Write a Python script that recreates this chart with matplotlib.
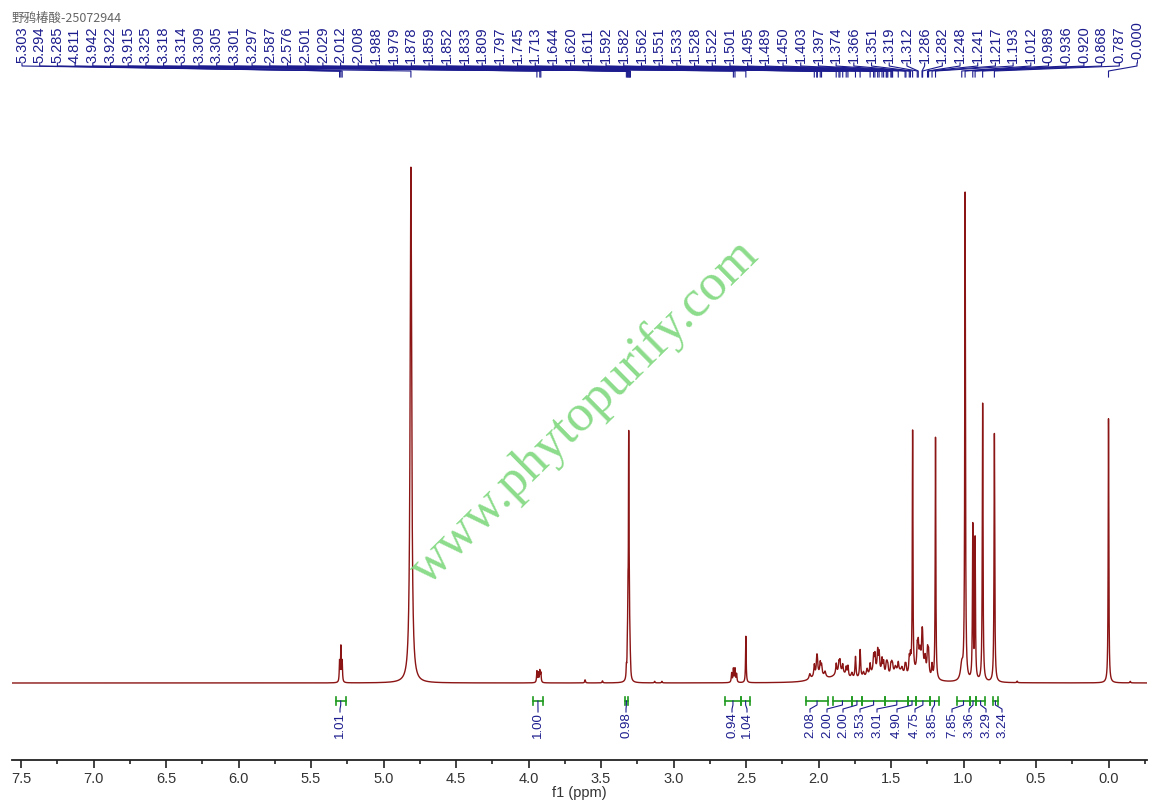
import numpy as np
import matplotlib
matplotlib.use("Agg")
import matplotlib.pyplot as plt

# ---------------- data ----------------
TITLE = "野鸦椿酸-25072944"

PEAK_LABELS = ["5.303", "5.294", "5.285", "4.811", "3.942", "3.922", "3.915", "3.325",
               "3.318", "3.314", "3.309", "3.305", "3.301", "3.297", "2.587", "2.576",
               "2.501", "2.029", "2.012", "2.008", "1.988", "1.979", "1.878", "1.859",
               "1.852", "1.833", "1.809", "1.797", "1.745", "1.713", "1.644", "1.620",
               "1.611", "1.592", "1.582", "1.562", "1.551", "1.533", "1.528", "1.522",
               "1.501", "1.495", "1.489", "1.450", "1.403", "1.397", "1.374", "1.366",
               "1.351", "1.319", "1.312", "1.286", "1.282", "1.248", "1.241", "1.217",
               "1.193", "1.012", "0.989", "0.936", "0.920", "0.868", "0.787", "-0.000"]

# spectrum lines: position (ppm), height (relative to tallest), half width (ppm)
SPEC_PPM = [5.303, 5.294, 5.285, 4.811,
            3.942, 3.932, 3.922, 3.915, 3.61, 3.49,
            3.325, 3.318, 3.314, 3.309, 3.305, 3.301, 3.297, 3.13, 3.08,
            2.599, 2.587, 2.576, 2.565, 2.501,
            2.06, 2.029, 2.012, 2.008, 1.988, 1.979, 1.955,
            1.878, 1.859, 1.852, 1.833, 1.809, 1.797, 1.770, 1.745, 1.713, 1.690, 1.665,
            1.644, 1.620, 1.611, 1.592, 1.582, 1.562, 1.551, 1.533, 1.528, 1.522,
            1.501, 1.495, 1.489, 1.470, 1.450, 1.425, 1.403, 1.397, 1.374, 1.366,
            1.351, 1.319, 1.312, 1.300, 1.286, 1.282, 1.265, 1.248, 1.241, 1.217, 1.193,
            2.00, 1.85, 1.60, 1.45, 1.30,
            1.012, 0.989, 0.936, 0.920, 0.868, 0.787, 0.63, 0.000, -0.15]
SPEC_HEIGHT = [0.040, 0.068, 0.040, 1.000,
               0.022, 0.018, 0.022, 0.018, 0.006, 0.004,
               0.020, 0.050, 0.120, 0.435, 0.120, 0.050, 0.020, 0.003, 0.003,
               0.018, 0.026, 0.026, 0.016, 0.090,
               0.010, 0.022, 0.026, 0.022, 0.022, 0.018, 0.010,
               0.020, 0.018, 0.020, 0.016, 0.016, 0.020, 0.010, 0.042, 0.055, 0.010, 0.014,
               0.020, 0.030, 0.030, 0.038, 0.034, 0.026, 0.022, 0.016, 0.016, 0.016,
               0.016, 0.016, 0.014, 0.010, 0.016, 0.010, 0.016, 0.016, 0.030, 0.030,
               0.470, 0.040, 0.040, 0.030, 0.048, 0.044, 0.030, 0.045, 0.042, 0.025, 0.470,
               0.014, 0.018, 0.020, 0.018, 0.026,
               0.030, 0.945, 0.298, 0.272, 0.540, 0.482, 0.003, 0.512, 0.003]
SPEC_WIDTH = [0.0025, 0.0025, 0.0025, 0.0063,
              0.0028, 0.0028, 0.0028, 0.0028, 0.003, 0.003,
              0.0022, 0.0022, 0.0022, 0.0022, 0.0022, 0.0022, 0.0022, 0.003, 0.003,
              0.003, 0.003, 0.003, 0.003, 0.0025,
              0.006, 0.004, 0.004, 0.004, 0.004, 0.004, 0.006,
              0.004, 0.004, 0.004, 0.004, 0.004, 0.004, 0.006, 0.004, 0.004, 0.006, 0.006,
              0.004, 0.004, 0.004, 0.004, 0.004, 0.004, 0.004, 0.004, 0.004, 0.004,
              0.004, 0.004, 0.004, 0.006, 0.004, 0.006, 0.004, 0.004, 0.004, 0.004,
              0.0025, 0.004, 0.004, 0.006, 0.004, 0.004, 0.006, 0.004, 0.004, 0.004, 0.0025,
              0.05, 0.05, 0.06, 0.05, 0.04,
              0.010, 0.0028, 0.0028, 0.0028, 0.0028, 0.0028, 0.003, 0.0025, 0.003]

INT_START = [5.33, 3.97, 3.335, 2.645, 2.535, 2.086, 1.90, 1.77, 1.70, 1.54, 1.38, 1.33,
             1.23, 1.045, 0.955, 0.914, 0.80]
INT_END = [5.26, 3.90, 3.315, 2.535, 2.47, 1.934, 1.77, 1.70, 1.54, 1.38, 1.33, 1.23,
           1.17, 0.955, 0.914, 0.85, 0.76]
INT_VALUES = ["1.01", "1.00", "0.98", "0.94", "1.04", "2.08", "2.00", "2.00", "3.53",
              "3.01", "4.90", "4.75", "3.85", "7.85", "3.36", "3.29", "3.24"]

XTICKS = [7.5, 7.0, 6.5, 6.0, 5.5, 5.0, 4.5, 4.0, 3.5, 3.0, 2.5, 2.0, 1.5, 1.0, 0.5, 0.0]
XLABEL = "f1 (ppm)"
WATERMARK = "www.phytopurify.com"

# ---------------- layout (pixels of the 1156x810 canvas) ----------------
W, H = 1156, 810
AX_L, AX_R, AX_B = 12, 1147, 760
PX_ZERO, PX_PER_PPM = 1108.5, 145.0
PY_BASE, PY_PER_UNIT = 683.0, 516.0
INT_LABEL_PX = [340, 538, 626, 732, 747, 810, 827, 843, 860, 877, 897, 915, 932,
                952, 969, 986, 1002]

def px2x(px):
    return (PX_ZERO - px) / PX_PER_PPM

def py2y(py):
    return (PY_BASE - py) / PY_PER_UNIT

SPEC_COLOR = "#8b1414"
NAVY = "#1c1c8e"
GREEN = "#1f9a1f"

fig = plt.figure(figsize=(W / 100, H / 100), dpi=100)
ax = fig.add_axes([AX_L / W, (H - AX_B) / H, (AX_R - AX_L) / W, AX_B / H])

# spectrum
grid = np.linspace(px2x(AX_L), px2x(AX_R), 24000)
spec = np.zeros_like(grid)
for p, h, w in zip(SPEC_PPM, SPEC_HEIGHT, SPEC_WIDTH):
    spec += h / (1.0 + ((grid - p) / w) ** 2)
ax.plot(grid, spec, color=SPEC_COLOR, lw=1.0, solid_joinstyle="round")

# axis styling
for s in ["left", "right", "top"]:
    ax.spines[s].set_visible(False)
ax.spines["bottom"].set_linewidth(1.3)
ax.spines["bottom"].set_color("#222222")
ax.set_yticks([])
ax.set_xticks(XTICKS)
ax.set_xticklabels([f"{t:.1f}" for t in XTICKS])
ax.set_xticks([t - 0.25 for t in XTICKS], minor=True)
ax.tick_params(axis="x", which="major", direction="out", length=5.5, width=1.2,
               colors="#222222", labelsize=10.5, pad=3)
ax.tick_params(axis="x", which="minor", direction="out", length=3.2, width=1.2, colors="#222222")
for lab in ax.get_xticklabels():
    lab.set_fontfamily("Liberation Sans")
    lab.set_color("#333333")
ax.set_xlabel(XLABEL, fontsize=10.5, family="Liberation Sans", color="#333333", labelpad=0)

# limits set after ticks so that tick setting cannot widen them
ax.set_xlim(px2x(AX_L), px2x(AX_R))
ax.set_ylim(py2y(AX_B), py2y(0))

# peak labels at top, evenly spaced, with connector lines
n = len(PEAK_LABELS)
lab_px = np.linspace(22, 1137, n)
for lbl, lx in zip(PEAK_LABELS, lab_px):
    pk = float(lbl)
    ax.text(px2x(lx), py2y(63), lbl, rotation=90, ha="center", va="bottom",
            fontsize=10.5, family="Liberation Sans", color=NAVY)
    xs = [px2x(lx), px2x(lx), pk, pk]
    ys = [py2y(63), py2y(66), py2y(71), py2y(77)]
    ax.plot(xs, ys, color=NAVY, lw=0.8, clip_on=False)

# integrals
for s, e, v, lx in zip(INT_START, INT_END, INT_VALUES, INT_LABEL_PX):
    yb = py2y(701)
    ax.plot([s, e], [yb, yb], color=GREEN, lw=1.2)
    for xe in (s, e):
        ax.plot([xe, xe], [py2y(697), py2y(705)], color=GREEN, lw=1.2)
    c = (s + e) / 2
    ax.plot([c, c, px2x(lx), px2x(lx)],
            [py2y(701), py2y(705), py2y(709), py2y(712)], color=NAVY, lw=0.8)
    ax.text(px2x(lx), py2y(712), v, rotation=90, ha="center", va="top",
            fontsize=9.5, family="Liberation Sans", color=NAVY)

# watermark
ax.text(px2x(585), py2y(412), WATERMARK, rotation=44.6, rotation_mode="anchor",
        ha="center", va="center", fontsize=37.5, family="Liberation Serif",
        color="#7fd87f", alpha=0.9)

# title
fig.text(12 / W, 1 - 18 / H, TITLE, ha="left", va="center", fontsize=9,
         family=["Noto Sans CJK SC", "DejaVu Sans"], color="#666666")

fig.savefig("out.png", dpi=100)
